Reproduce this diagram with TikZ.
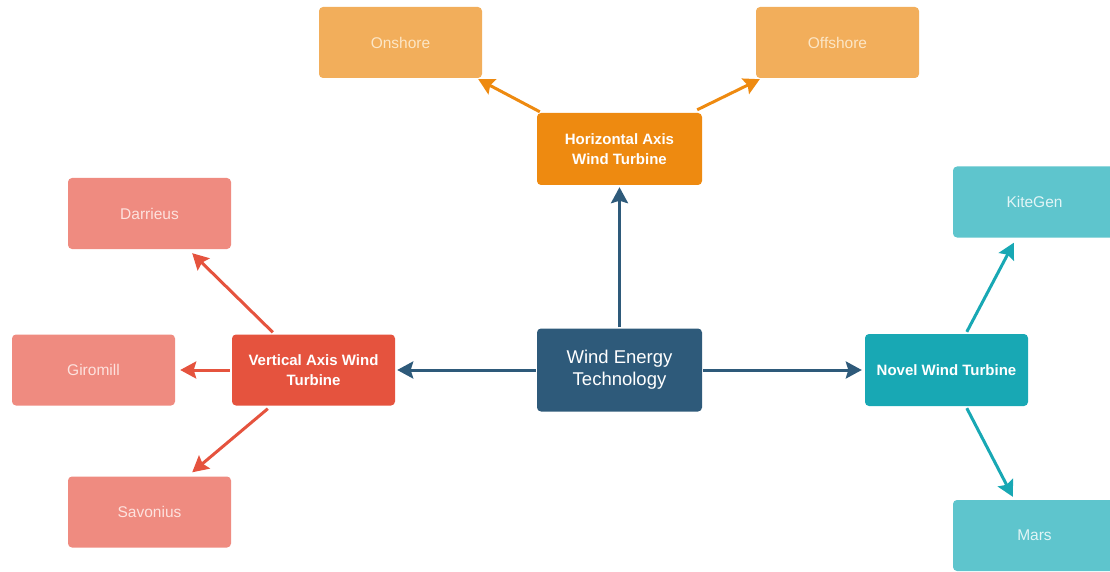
\documentclass[tikz,border=0pt]{standalone}
\usepackage{fontspec}
\setmainfont{Liberation Sans}
\usetikzlibrary{arrows.meta}
\definecolor{cblue}{HTML}{2E5A7A}
\definecolor{corange}{HTML}{EE8A10}
\definecolor{lorange}{HTML}{F2AE5B}
\definecolor{torange}{HTML}{FCE6C6}
\definecolor{cred}{HTML}{E5533E}
\definecolor{lred}{HTML}{EF8B80}
\definecolor{tred}{HTML}{FDE2DE}
\definecolor{cteal}{HTML}{18A8B4}
\definecolor{lteal}{HTML}{5EC5CD}
\definecolor{tteal}{HTML}{E2F5F6}
\tikzset{
  box/.style={rectangle, rounded corners=4pt, inner sep=0pt, minimum width=163pt, minimum height=71pt, align=center},
  mainbox/.style={box, fill=#1, text=white, font=\fontsize{15}{20}\selectfont\bfseries},
  leaf/.style={box, fill=#1, font=\fontsize{15.5}{18}\selectfont},
  conn/.style={draw=#1, line width=3pt, -{Stealth[length=16pt,width=17pt,inset=2.5pt]}}
}
\begin{document}
\begin{tikzpicture}[x=1pt,y=-1pt]
\useasboundingbox (0,0) rectangle (1110,572);
% main boxes
\node[box, fill=cblue, text=white, minimum width=165pt, minimum height=83pt, font=\fontsize{18.5}{22}\selectfont] (wet) at (619.5,370) {Wind Energy\\Technology};
\node[mainbox=corange, minimum width=165pt, minimum height=72pt] (hat) at (619.5,149) {Horizontal Axis\\Wind Turbine};
\node[mainbox=cred] (vat) at (313.5,370) {Vertical Axis Wind\\Turbine};
\node[mainbox=cteal, minimum height=72pt] (nwt) at (946.5,370) {Novel Wind Turbine};
% leaves
\node[leaf=lorange, text=torange] (on) at (400.5,42.5) {Onshore};
\node[leaf=lorange, text=torange] (off) at (837.5,42.5) {Offshore};
\node[leaf=lred, text=tred] (dar) at (149.5,213.5) {Darrieus};
\node[leaf=lred, text=tred] (gir) at (93.5,370) {Giromill};
\node[leaf=lred, text=tred] (sav) at (149.5,512) {Savonius};
\node[leaf=lteal, text=tteal] (kite) at (1034.5,202) {KiteGen};
\node[leaf=lteal, text=tteal] (mars) at (1034.5,535.5) {Mars};
% connectors
\draw[conn=cblue] ([yshift=1pt]wet.north) -- ([yshift=-2pt]hat.south);
\draw[conn=cblue] ([xshift=-1pt]wet.west) -- ([xshift=2pt]vat.east);
\draw[conn=cblue] ([xshift=1pt]wet.east) -- ([xshift=-3pt]nwt.west);
\draw[conn=corange] ([shift={(3pt,1pt)}]hat.north west) -- ([shift={(-4pt,-1pt)}]on.south east);
\draw[conn=corange] ([shift={(-5pt,3pt)}]hat.north east) -- ([shift={(4pt,-1pt)}]off.south west);
\draw[conn=cred] ([shift={(41pt,2pt)}]vat.north west) -- ([shift={(-39pt,-4pt)}]dar.south east);
\draw[conn=cred] ([xshift=-2pt]vat.west) -- ([xshift=5pt]gir.east);
\draw[conn=cred] ([shift={(36pt,-3pt)}]vat.south west) -- ([shift={(-39pt,4pt)}]sav.north east);
\draw[conn=cteal] ([shift={(102pt,2pt)}]nwt.north west) -- ([shift={(61pt,-5pt)}]kite.south west);
\draw[conn=cteal] ([shift={(102pt,-2pt)}]nwt.south west) -- ([shift={(60pt,3pt)}]mars.north west);
\end{tikzpicture}
\end{document}
